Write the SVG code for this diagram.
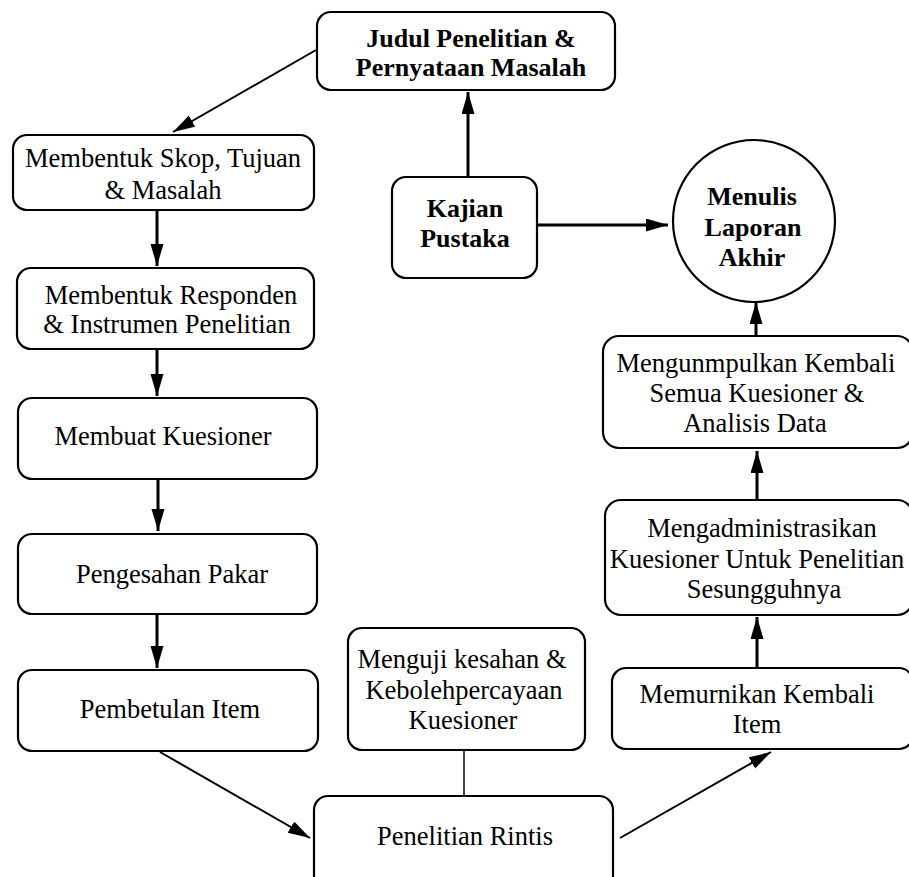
<svg xmlns="http://www.w3.org/2000/svg" width="909" height="877" viewBox="0 0 909 877">
<style>
.box{fill:#fff;stroke:#000;stroke-width:2.2}
.t{font-family:"Liberation Serif","Times New Roman",serif;font-size:26.5px;fill:#000;text-anchor:middle}
.b{font-weight:bold;font-size:26px}
.c{fill:none;stroke:#000;stroke-width:3}
.d{fill:none;stroke:#000;stroke-width:2}
.thin{fill:none;stroke:#000;stroke-width:1.5}
</style>
<defs>
<marker id="ah" markerUnits="userSpaceOnUse" markerWidth="24" markerHeight="14" refX="22" refY="6.5" orient="auto">
<path d="M0,0 L22,6.5 L0,13 Z" fill="#000"/>
</marker>
</defs>
<rect width="909" height="877" fill="#fff"/>
<g id="connectors">
<line class="d" x1="316" y1="50" x2="173" y2="132" marker-end="url(#ah)"/>
<line class="c" x1="468" y1="177" x2="468" y2="92" marker-end="url(#ah)"/>
<line class="c" x1="538" y1="225" x2="668" y2="225" marker-end="url(#ah)"/>
<line class="c" x1="157" y1="211" x2="157" y2="266" marker-end="url(#ah)"/>
<line class="c" x1="157" y1="349" x2="157" y2="396" marker-end="url(#ah)"/>
<line class="c" x1="158" y1="479" x2="158" y2="531" marker-end="url(#ah)"/>
<line class="c" x1="157" y1="614" x2="157" y2="668" marker-end="url(#ah)"/>
<line class="d" x1="160" y1="752" x2="310" y2="838" marker-end="url(#ah)"/>
<line class="thin" x1="464" y1="750" x2="464" y2="797"/>
<line class="d" x1="620" y1="838" x2="771" y2="752" marker-end="url(#ah)"/>
<line class="c" x1="757" y1="668" x2="757" y2="617" marker-end="url(#ah)"/>
<line class="c" x1="757" y1="500" x2="757" y2="451" marker-end="url(#ah)"/>
<line class="c" x1="756" y1="336" x2="756" y2="302" marker-end="url(#ah)"/>
</g>
<g id="judul">
<rect class="box" x="317" y="12" width="298" height="78" rx="14"/>
<text class="t b" x="471" y="47">Judul Penelitian &amp;</text>
<text class="t b" x="471" y="76">Pernyataan Masalah</text>
</g>
<g id="skop">
<rect class="box" x="13" y="135" width="301" height="75" rx="14"/>
<text class="t" x="163" y="167">Membentuk Skop, Tujuan</text>
<text class="t" x="163" y="199">&amp; Masalah</text>
</g>
<g id="responden">
<rect class="box" x="17" y="268" width="297" height="81" rx="14"/>
<text class="t" x="171" y="304">Membentuk Responden</text>
<text class="t" x="167" y="333">&amp; Instrumen Penelitian</text>
</g>
<g id="kuesioner">
<rect class="box" x="18" y="398" width="299" height="81" rx="14"/>
<text class="t" x="163" y="445">Membuat Kuesioner</text>
</g>
<g id="pengesahan">
<rect class="box" x="18" y="534" width="299" height="80" rx="14"/>
<text class="t" x="172" y="583">Pengesahan Pakar</text>
</g>
<g id="pembetulan">
<rect class="box" x="18" y="670" width="300" height="81" rx="14"/>
<text class="t" x="170" y="718">Pembetulan Item</text>
</g>
<g id="kajian">
<rect class="box" x="392" y="177" width="145" height="101" rx="14"/>
<text class="t b" x="465" y="217">Kajian</text>
<text class="t b" x="465" y="247">Pustaka</text>
</g>
<g id="menulis">
<circle cx="754" cy="221" r="81" fill="#fff" stroke="#000" stroke-width="2.2"/>
<text class="t b" x="752" y="205">Menulis</text>
<text class="t b" x="753" y="236">Laporan</text>
<text class="t b" x="752" y="266">Akhir</text>
</g>
<g id="mengumpulkan">
<rect class="box" x="603" y="336" width="310" height="112" rx="16"/>
<text class="t" x="756" y="372">Mengunmpulkan Kembali</text>
<text class="t" x="757" y="402">Semua Kuesioner &amp;</text>
<text class="t" x="755" y="432">Analisis Data</text>
</g>
<g id="mengadmin">
<rect class="box" x="605" y="500" width="308" height="115" rx="16"/>
<text class="t" x="762" y="537">Mengadministrasikan</text>
<text class="t" x="757" y="568">Kuesioner Untuk Penelitian</text>
<text class="t" x="764" y="598">Sesungguhnya</text>
</g>
<g id="memurnikan">
<rect class="box" x="612" y="668" width="301" height="81" rx="14"/>
<text class="t" x="757" y="703">Memurnikan Kembali</text>
<text class="t" x="757" y="733">Item</text>
</g>
<g id="menguji">
<rect class="box" x="348" y="628" width="237" height="122" rx="14"/>
<text class="t" x="462" y="668">Menguji kesahan &amp;</text>
<text class="t" x="464" y="699">Kebolehpercayaan</text>
<text class="t" x="463" y="729">Kuesioner</text>
</g>
<g id="rintis">
<rect class="box" x="314" y="796" width="299" height="95" rx="14"/>
<text class="t" x="465" y="845">Penelitian Rintis</text>
</g>
</svg>
